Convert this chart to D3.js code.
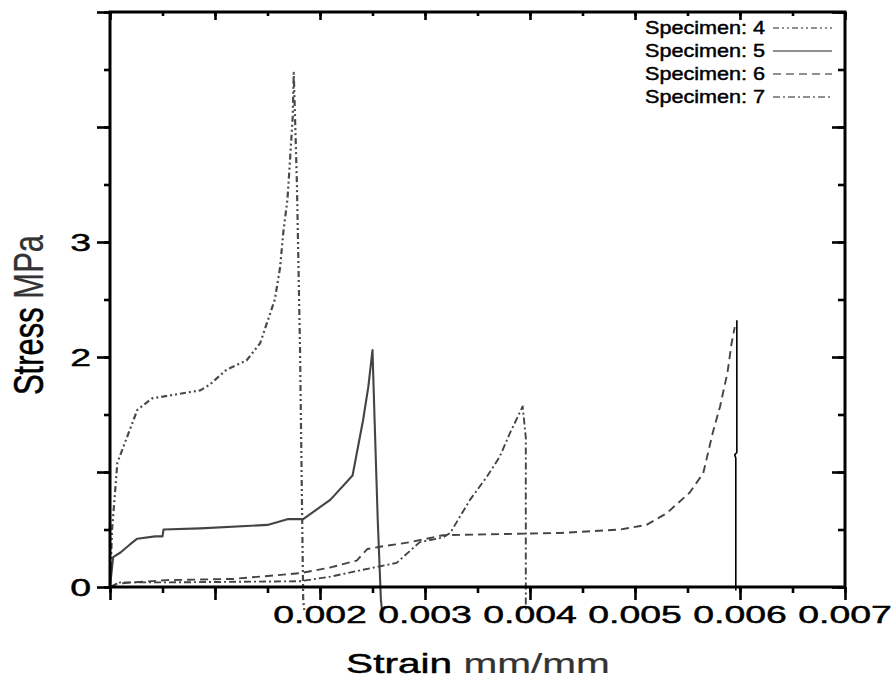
<!DOCTYPE html>
<html>
<head>
<meta charset="utf-8">
<title>Stress vs Strain</title>
<style>
  body { margin: 0; background: #ffffff; }
  text { font-family: "Liberation Sans", Arial, sans-serif; fill: #000; stroke: #000; stroke-width: 0.45px; }
</style>
<script src="https://d3js.org/d3.v7.min.js"></script>
</head>
<body>
<div id="chart"></div>
<script>
// ---- data ----
var strain4 = [0, 0.00002, 0.00007, 0.00026, 0.0004, 0.00086, 0.00095, 0.00111, 0.0013, 0.00143, 0.00157, 0.00162, 0.00165, 0.00169, 0.00171, 0.00174, 0.00175, 0.00178, 0.00181, 0.00184, 0.00185];
var stress4 = [0, 0.5, 1.08, 1.54, 1.64, 1.71, 1.76, 1.89, 1.97, 2.12, 2.50, 2.78, 3.08, 3.37, 3.65, 4.09, 4.47, 3.51, 2.06, -0.11, -0.2];

var strain5 = [0, 0.00003, 0.0001, 0.00019, 0.00026, 0.00043, 0.0005, 0.00051, 0.00086, 0.0015, 0.00169, 0.00184, 0.0021, 0.00231, 0.00241, 0.00246, 0.0025, 0.00252, 0.00255, 0.00258, 0.00259];
var stress5 = [0, 0.26, 0.3, 0.37, 0.42, 0.44, 0.44, 0.5, 0.51, 0.54, 0.59, 0.59, 0.76, 0.97, 1.45, 1.74, 2.06, 1.45, 0.58, -0.11, -0.2];

var strain6 = [0, 0.00007, 0.00054, 0.00117, 0.00181, 0.0021, 0.00235, 0.00245, 0.00257, 0.00286, 0.00317, 0.00429, 0.00486, 0.00511, 0.0053, 0.00552, 0.00565, 0.00574, 0.00581, 0.00588, 0.00592, 0.00595];
var stress6 = [0, 0.03, 0.06, 0.07, 0.12, 0.17, 0.23, 0.33, 0.35, 0.39, 0.45, 0.47, 0.5, 0.54, 0.64, 0.82, 0.99, 1.34, 1.57, 1.86, 2.12, 2.26];
// specimen 6 break, drawn as a thin solid line in the original
var strain6Break = [0.00597, 0.00597, 0.00595, 0.00596, 0.00596];
var stress6Break = [2.32, 1.17, 1.15, 1.12, -0.03];

var strain7 = [0, 0.0001, 0.00054, 0.00181, 0.0021, 0.00241, 0.00273, 0.00295, 0.00317, 0.00324, 0.00343, 0.00359, 0.00371, 0.00381, 0.00393, 0.00396, 0.00396];
var stress7 = [0, 0.04, 0.04, 0.05, 0.09, 0.15, 0.21, 0.39, 0.43, 0.47, 0.76, 0.96, 1.13, 1.34, 1.57, 1.3, -0.2];

var specimens = ["Specimen: 4", "Specimen: 5", "Specimen: 6", "Specimen: 7"];
var strainMinor = d3.range(0, 15).map(function(i) { return i * 0.0005; });
var strainMajor = d3.range(0, 8).map(function(i) { return i * 0.001; });
var strainTickLabels = ["0.002", "0.003", "0.004", "0.005", "0.006", "0.007"];
var stressMinor = d3.range(0, 11).map(function(i) { return i * 0.5; });
var stressMajor = [0, 1, 2, 3, 4, 5];
var stressTickLabels = ["0", "2", "3"];

// ---- layout ----
var W = 893, H = 679;
var x = d3.scaleLinear().domain([0, 0.007]).range([110, 845]);
var y = d3.scaleLinear().domain([0, 5]).range([587, 12]);

var svg = d3.select("#chart").append("svg")
    .attr("width", W)
    .attr("height", H);

function zip(xs, ys) {
    return xs.map(function(v, i) { return [v, ys[i]]; });
}

var line = d3.line()
    .x(function(d) { return x(d[0]); })
    .y(function(d) { return y(d[1]); });

var styles = [
    {dash: "6,3,2,3,2,3", width: 2.2, color: "#4a4a4a"},
    {dash: null, width: 2.1, color: "#444"},
    {dash: "8,5", width: 1.9, color: "#444"},
    {dash: "7,3,2,3", width: 1.9, color: "#444"}
];
var seriesData = [zip(strain4, stress4), zip(strain5, stress5), zip(strain6, stress6), zip(strain7, stress7)];

seriesData.forEach(function(d, i) {
    svg.append("path")
        .attr("d", line(d))
        .attr("fill", "none")
        .attr("stroke", styles[i].color)
        .attr("stroke-width", styles[i].width)
        .attr("stroke-dasharray", styles[i].dash)
        .attr("stroke-linejoin", "round");
});

svg.append("path")
    .attr("d", line(zip(strain6Break, stress6Break)))
    .attr("fill", "none")
    .attr("stroke", "#000")
    .attr("stroke-width", 1.6);

// ---- frame and ticks ----
svg.append("rect")
    .attr("x", x(0)).attr("y", y(5))
    .attr("width", x(0.007) - x(0))
    .attr("height", y(0) - y(5))
    .attr("fill", "none")
    .attr("stroke", "#000")
    .attr("stroke-width", 3);

function tickAxis(axis, vals, size, transform) {
    var g = svg.append("g")
        .attr("transform", transform)
        .call(axis.tickValues(vals).tickSize(size).tickFormat(""));
    g.select(".domain").remove();
    g.selectAll("line").attr("stroke", "#000").attr("stroke-width", 2.6);
    return g;
}

// left & bottom point outward, top & right point inward
tickAxis(d3.axisLeft(y), stressMinor, 6, "translate(" + x(0) + ",0)");
tickAxis(d3.axisLeft(y), stressMajor, 13, "translate(" + x(0) + ",0)");
tickAxis(d3.axisBottom(x), strainMinor, 6, "translate(0," + y(0) + ")");
tickAxis(d3.axisBottom(x), strainMajor, 13, "translate(0," + y(0) + ")");
tickAxis(d3.axisBottom(x), strainMinor, 4, "translate(0," + y(5) + ")");
tickAxis(d3.axisBottom(x), strainMajor, 8, "translate(0," + y(5) + ")");
tickAxis(d3.axisLeft(y), stressMinor, 7, "translate(" + x(0.007) + ",0)");
tickAxis(d3.axisLeft(y), stressMajor, 13, "translate(" + x(0.007) + ",0)");

// tick labels (the scan is stretched sideways, so the text is too)
svg.selectAll(".xlab")
    .data(strainTickLabels)
    .enter().append("text")
    .attr("class", "xlab")
    .attr("text-anchor", "middle")
    .attr("font-size", 24)
    .attr("transform", function(d) { return "translate(" + x(+d) + ",623) scale(1.56,1)"; })
    .text(function(d) { return d; });

svg.selectAll(".ylab")
    .data(stressTickLabels)
    .enter().append("text")
    .attr("class", "ylab")
    .attr("text-anchor", "end")
    .attr("font-size", 24)
    .attr("transform", function(d) { return "translate(91," + (y(+d) + 8.5) + ") scale(1.56,1)"; })
    .text(function(d) { return d; });

// axis titles
var xt = svg.append("text")
    .attr("text-anchor", "middle")
    .attr("font-size", 28)
    .attr("transform", "translate(478,673) scale(1.45,1)");
xt.append("tspan").text("Strain ");
xt.append("tspan").attr("fill", "#333").attr("stroke", "#333").attr("stroke-width", 0.2).text("mm/mm");

var yt = svg.append("text")
    .attr("text-anchor", "middle")
    .attr("font-size", 31)
    .attr("transform", "translate(43,315) rotate(-90) scale(1,1.35)");
yt.append("tspan").text("Stress ");
yt.append("tspan").attr("fill", "#333").attr("stroke", "#333").attr("stroke-width", 0.2).text("MPa");

// ---- legend ----
var legend = svg.append("g");
specimens.forEach(function(name, i) {
    var base = 34 + i * 23;
    legend.append("text")
        .attr("font-size", 18)
        .attr("transform", "translate(645," + base + ") scale(1.2,1)")
        .text(name);
    legend.append("line")
        .attr("x1", 773).attr("x2", 832)
        .attr("y1", base - 6).attr("y2", base - 6)
        .attr("stroke", "#222")
        .attr("stroke-width", 1.2)
        .attr("stroke-dasharray", styles[i].dash);
});
</script>
</body>
</html>
